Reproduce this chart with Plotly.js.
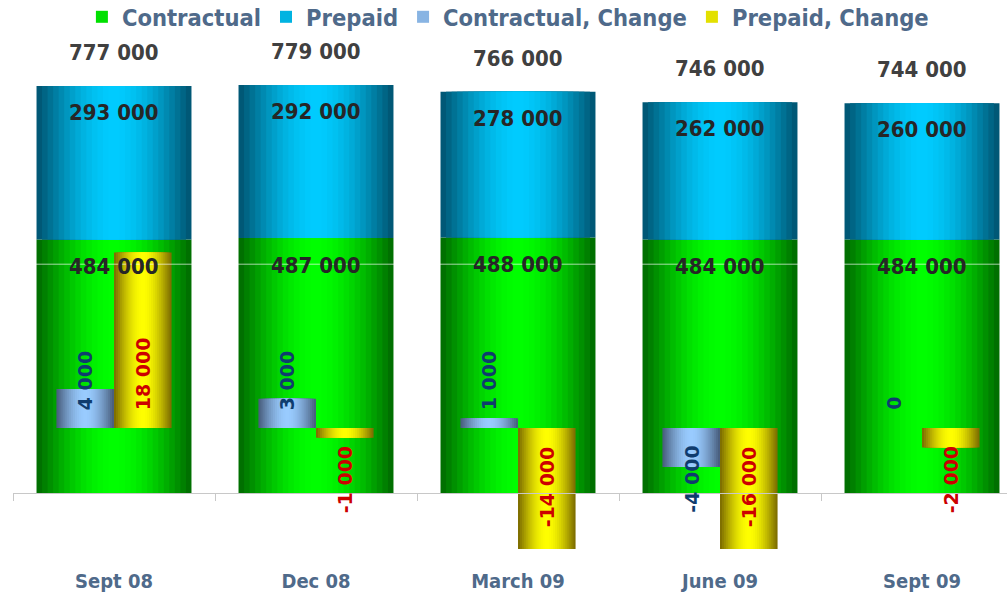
<!DOCTYPE html>
<html>
<head>
<meta charset="utf-8">
<script src="https://cdn.plot.ly/plotly-3.0.1.min.js"></script>
<style>
  html, body { margin: 0; padding: 0; overflow: hidden; background: #fff; }
  #chart { width: 1040px; height: 597px; }
</style>
</head>
<body>
<div id="chart"></div>
<script>
var quarters = ['Sept 08', 'Dec 08', 'March 09', 'June 09', 'Sept 09'];
var contractual = [484000, 487000, 488000, 484000, 484000];
var prepaid = [293000, 292000, 278000, 262000, 260000];
var contractualChange = [4000, 3000, 1000, -4000, 0];
var prepaidChange = [18000, -1000, -14000, -16000, -2000];

var totals = contractual.map(function (v, i) { return v + prepaid[i]; });

var narrow = 'DejaVu Sans Condensed, Liberation Sans Narrow, DejaVu Sans, sans-serif';
var wide = 'DejaVu Sans, Verdana, sans-serif';
var slate = '#4f6a8a';

function fmt(v) {
  var s = String(Math.abs(v)).replace(/\B(?=(\d{3})+(?!\d))/g, ' ');
  return (v < 0 ? '-' : '') + s;
}

function mix(a, b, t) {
  return 'rgb(' + [0, 1, 2].map(function (i) {
    return Math.round(a[i] + (b[i] - a[i]) * t);
  }).join(',') + ')';
}

// fake the cylinder look: stack narrower and brighter bars on top of each other
var BANDS = 14;
function cylinder(name, y, o) {
  var out = [];
  for (var k = 0; k < BANDS; k++) {
    var p = k / BANDS;
    var w = o.width * (1 - p);
    var tr = {
      type: 'bar',
      name: name,
      x: quarters,
      y: y,
      yaxis: o.yaxis,
      width: w,
      offset: o.center - w / 2,
      marker: { color: mix(o.edge, o.mid, Math.sin(p * Math.PI / 2)), line: { width: 0 } },
      legendgroup: name,
      showlegend: k === 8,
      hoverinfo: 'skip'
    };
    if (o.base) tr.base = o.base;
    out.push(tr);
  }
  return out;
}

var data = []
  .concat(cylinder('Contractual', contractual, { yaxis: 'y', width: 0.767, center: 0, edge: [0, 112, 0], mid: [0, 255, 0] }))
  .concat(cylinder('Prepaid', prepaid, { yaxis: 'y', width: 0.767, center: 0, base: contractual, edge: [0, 88, 118], mid: [0, 204, 255] }))
  .concat(cylinder('Contractual, Change', contractualChange, { yaxis: 'y2', width: 0.285, center: -0.1425, edge: [74, 96, 128], mid: [153, 204, 255] }))
  .concat(cylinder('Prepaid, Change', prepaidChange, { yaxis: 'y2', width: 0.285, center: 0.1425, edge: [128, 112, 0], mid: [255, 255, 0] }));

var annotations = [];
quarters.forEach(function (q, i) {
  annotations.push({ x: i, y: totals[i], yref: 'y', yanchor: 'bottom', yshift: 19, showarrow: false,
    text: fmt(totals[i]), font: { family: narrow, size: 22, weight: 'bold', color: '#404040' } });
  annotations.push({ x: i, y: totals[i], yref: 'y', yanchor: 'top', yshift: -12, showarrow: false,
    text: fmt(prepaid[i]), font: { family: narrow, size: 22, weight: 'bold', color: '#262626' } });
  annotations.push({ x: i, y: contractual[i], yref: 'y', yanchor: 'top', yshift: -13, showarrow: false,
    text: fmt(contractual[i]), font: { family: narrow, size: 22, weight: 'bold', color: '#262626' } });
  var c = contractualChange[i], p = prepaidChange[i];
  annotations.push({ x: i - 0.1425, y: 0, yref: 'y2', textangle: -90, showarrow: false,
    yanchor: c < 0 ? 'top' : 'bottom', yshift: c < 0 ? -16 : 16,
    text: fmt(c), font: { family: wide, size: 19, weight: 'bold', color: '#0f3c6e' } });
  annotations.push({ x: i + 0.1425, y: 0, yref: 'y2', textangle: -90, showarrow: false,
    yanchor: p < 0 ? 'top' : 'bottom', yshift: p < 0 ? -16 : 16,
    text: fmt(p), font: { family: wide, size: 19, weight: 'bold', color: '#cc0000' } });
});

var layout = {
  width: 1040,
  height: 597,
  margin: { l: 13, r: 17, t: 30, b: 48, autoexpand: false },
  paper_bgcolor: '#fff',
  plot_bgcolor: '#fff',
  barmode: 'overlay',
  showlegend: true,
  legend: {
    orientation: 'h',
    x: 0.49, xanchor: 'center',
    y: 1.025, yanchor: 'middle',
    font: { family: narrow, size: 23.5, weight: 'bold', color: slate },
    itemwidth: 30,
    traceorder: 'normal'
  },
  xaxis: {
    type: 'category',
    range: [-0.5, 4.5],
    anchor: 'free',
    position: 0.108,
    showline: true,
    linecolor: '#c8c8c8',
    linewidth: 1.5,
    ticks: 'outside',
    tickson: 'boundaries',
    ticklen: 7,
    tickcolor: '#c8c8c8',
    tickfont: { family: narrow, size: 20, weight: 'bold', color: slate },
    ticklabelstandoff: 70,
    showgrid: false,
    zeroline: false
  },
  yaxis: {
    range: [-107000, 884000],
    visible: false,
    showgrid: false,
    zeroline: false
  },
  yaxis2: {
    range: [-12410, 40820],
    overlaying: 'y',
    visible: false,
    showgrid: false,
    zeroline: false
  },
  shapes: [{
    type: 'line', xref: 'paper', x0: 0, x1: 1, yref: 'y2', y0: 16800, y1: 16800,
    line: { color: 'rgba(255,255,255,0.65)', width: 1 }, layer: 'above'
  }],
  annotations: annotations
};

Plotly.newPlot('chart', data, layout, { staticPlot: true, displayModeBar: false });
</script>
</body>
</html>
